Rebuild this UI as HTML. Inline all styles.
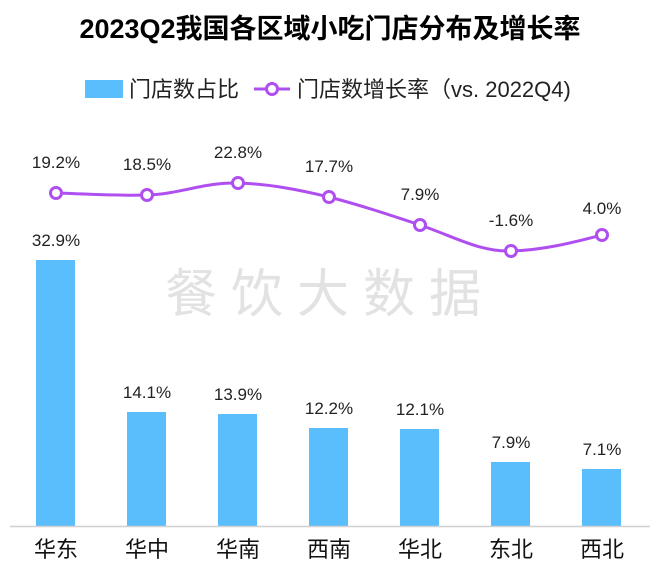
<!DOCTYPE html>
<html><head><meta charset="utf-8"><style>
body{margin:0;background:#fff;}
svg text{font-family:"Liberation Sans","Noto Sans CJK SC",sans-serif;}
</style></head><body>
<svg width="660" height="577" viewBox="0 0 660 577" xmlns="http://www.w3.org/2000/svg">
<rect width="660" height="577" fill="#fff"/>
<text x="330" y="38" text-anchor="middle" font-size="27" font-weight="bold" fill="#000">2023Q2我国各区域小吃门店分布及增长率</text>
<rect x="85" y="80" width="38" height="18" fill="#5bbefc"/>
<text x="129" y="97" font-size="22" fill="#222">门店数占比</text>
<line x1="254" y1="89" x2="290" y2="89" stroke="#b04ff0" stroke-width="3"/>
<circle cx="272" cy="89" r="5.5" fill="#fff" stroke="#b04ff0" stroke-width="3"/>
<text x="297" y="97" font-size="22" fill="#222">门店数增长率（vs. 2022Q4)</text>
<text x="330" y="312" text-anchor="middle" font-size="52" fill="#e2e2e2" letter-spacing="14">餐饮大数据</text>
<g fill="#5bbefc">
<rect x="36" y="260" width="39" height="266"/>
<rect x="127" y="412" width="39" height="114"/>
<rect x="218" y="414" width="39" height="112"/>
<rect x="309" y="428" width="39" height="98"/>
<rect x="400" y="429" width="39" height="97"/>
<rect x="491" y="462" width="39" height="64"/>
<rect x="582" y="469" width="39" height="57"/>
</g>
<line x1="10" y1="526.5" x2="650" y2="526.5" stroke="#d0d0d0" stroke-width="1.5"/>
<g font-size="17" fill="#222" text-anchor="middle">
<text x="56" y="246">32.9%</text>
<text x="147" y="398">14.1%</text>
<text x="238" y="400">13.9%</text>
<text x="329" y="414">12.2%</text>
<text x="420" y="415">12.1%</text>
<text x="511" y="448">7.9%</text>
<text x="602" y="455">7.1%</text>
<text x="56" y="168">19.2%</text>
<text x="147" y="170">18.5%</text>
<text x="238" y="158">22.8%</text>
<text x="329" y="172">17.7%</text>
<text x="420" y="200">7.9%</text>
<text x="511" y="226">-1.6%</text>
<text x="602" y="214">4.0%</text>
</g>
<g font-size="22" fill="#111" text-anchor="middle">
<text x="56" y="557">华东</text><text x="147" y="557">华中</text><text x="238" y="557">华南</text><text x="329" y="557">西南</text><text x="420" y="557">华北</text><text x="511" y="557">东北</text><text x="602" y="557">西北</text>
</g>
<path d="M56,193 C90,194 115,196 147,195 C180,194 205,182 238,183 C270,184 300,190 329,197 C360,205 390,215 420,225 C455,237 480,252 511,251 C545,250 575,242 602,235" fill="none" stroke="#b04ff0" stroke-width="3"/>
<g fill="#fff" stroke="#b04ff0" stroke-width="3">
<circle cx="56" cy="193" r="5.5"/><circle cx="147" cy="195" r="5.5"/><circle cx="238" cy="183" r="5.5"/><circle cx="329" cy="197" r="5.5"/><circle cx="420" cy="225" r="5.5"/><circle cx="511" cy="251" r="5.5"/><circle cx="602" cy="235" r="5.5"/>
</g>
</svg>
</body></html>
